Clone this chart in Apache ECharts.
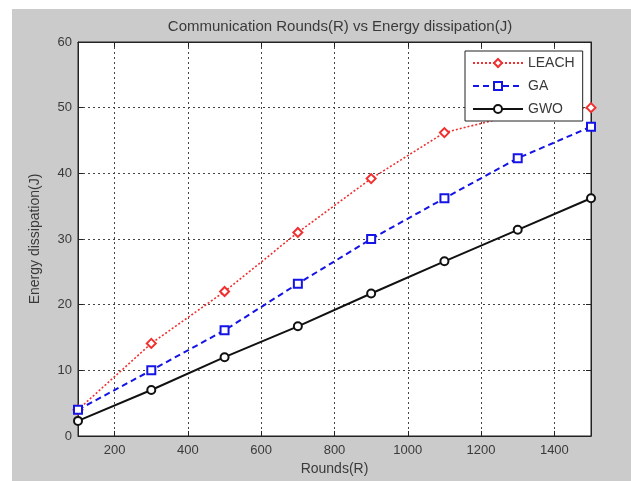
<!DOCTYPE html>
<html>
<head>
<meta charset="utf-8">
<script src="https://cdn.jsdelivr.net/npm/echarts@6/dist/echarts.min.js"></script>
<style>
  html, body { margin: 0; padding: 0; background: #fff; }
  #chart { width: 631px; height: 481px; }
</style>
</head>
<body>
<div id="chart"></div>
<script>
// rounds on the x axis
const rounds = [100, 300, 500, 700, 900, 1100, 1300, 1500]
// energy dissipation (J) per protocol
const leach = [4.0, 14.1, 22.0, 31.0, 39.2, 46.2, 49.0, 50.0]
const ga = [4.0, 10.0, 16.1, 23.2, 30.0, 36.2, 42.3, 47.1]
const gwo = [2.3, 7.0, 12.0, 16.7, 21.7, 26.6, 31.4, 36.2]
// tick labels
const xTicks = [200, 400, 600, 800, 1000, 1200, 1400]
const yTicks = [0, 10, 20, 30, 40, 50, 60]

const toPairs = arr => rounds.map((r, i) => [r, arr[i]])

const font = 'Liberation Sans, Arial, sans-serif'
const txt = '#3a3a3a'

const chart = echarts.init(document.getElementById('chart'))

const gridLine = { show: true, lineStyle: { color: '#444', type: [2, 3], width: 1 } }

chart.setOption({
  animation: false,
  backgroundColor: '#fff',
  graphic: [{
    type: 'rect',
    z: -10,
    shape: { x: 12, y: 9, width: 619, height: 472 },
    style: { fill: '#cbcbcb' }
  }],
  title: {
    text: 'Communication Rounds(R) vs Energy dissipation(J)',
    left: 335,
    textAlign: 'center',
    top: 14,
    textStyle: { fontFamily: font, fontSize: 15, fontWeight: 'normal', color: txt }
  },
  legend: {
    left: 465,
    top: 51,
    width: 122,
    orient: 'vertical',
    backgroundColor: '#fff',
    borderColor: '#222',
    borderWidth: 1,
    padding: [5, 8, 5, 7],
    itemWidth: 50,
    itemHeight: 10,
    itemGap: 9,
    textStyle: { fontFamily: font, fontSize: 14, color: txt },
    data: ['LEACH', 'GA', 'GWO']
  },
  grid: {
    left: 78, top: 42, right: 40, bottom: 43,
    show: true, backgroundColor: '#fff', borderColor: '#222', borderWidth: 1
  },
  xAxis: [{
    type: 'value',
    min: 100,
    max: 1500,
    name: 'Rounds(R)',
    nameLocation: 'middle',
    nameGap: 26,
    nameTextStyle: { fontFamily: font, fontSize: 14, color: txt },
    axisLine: { show: true, onZero: false, lineStyle: { color: '#222' } },
    axisTick: { show: true, inside: true, length: 5, customValues: xTicks, lineStyle: { color: '#222' } },
    axisLabel: { customValues: xTicks, fontFamily: font, fontSize: 13, color: txt, margin: 8,
      formatter: v => String(v) },
    splitLine: gridLine
  }, {
    type: 'value',
    position: 'top',
    min: 100,
    max: 1500,
    axisLine: { show: true, onZero: false, lineStyle: { color: '#222' } },
    axisTick: { show: true, inside: true, length: 5, customValues: xTicks, lineStyle: { color: '#222' } },
    axisLabel: { show: false },
    splitLine: { show: false }
  }],
  yAxis: [{
    type: 'value',
    min: 0,
    max: 60,
    interval: 10,
    name: 'Energy dissipation(J)',
    nameLocation: 'middle',
    nameGap: 36,
    nameTextStyle: { fontFamily: font, fontSize: 14, color: txt },
    axisLine: { show: true, lineStyle: { color: '#222' } },
    axisTick: { show: true, inside: true, length: 5, lineStyle: { color: '#222' } },
    axisLabel: { fontFamily: font, fontSize: 13, color: txt, margin: 6,
      formatter: v => yTicks.includes(v) ? String(v) : '' },
    splitLine: gridLine
  }, {
    type: 'value',
    position: 'right',
    min: 0,
    max: 60,
    interval: 10,
    axisLine: { show: true, lineStyle: { color: '#222' } },
    axisTick: { show: true, inside: true, length: 5, lineStyle: { color: '#222' } },
    axisLabel: { show: false },
    splitLine: { show: false }
  }],
  series: [
    {
      name: 'LEACH',
      type: 'line',
      data: toPairs(leach),
      symbol: 'emptyDiamond',
      symbolSize: 9,
      color: '#f03030',
      lineStyle: { color: '#f03030', width: 1.6, type: [2, 2] },
      itemStyle: { color: '#f03030', borderWidth: 2 },
      z: 3
    },
    {
      name: 'GA',
      type: 'line',
      data: toPairs(ga),
      symbol: 'emptyRect',
      symbolSize: 8,
      color: '#1414e6',
      lineStyle: { color: '#1414e6', width: 2, type: [6, 4] },
      itemStyle: { color: '#1414e6', borderWidth: 2 },
      z: 3
    },
    {
      name: 'GWO',
      type: 'line',
      data: toPairs(gwo),
      symbol: 'emptyCircle',
      symbolSize: 8,
      color: '#111',
      lineStyle: { color: '#111', width: 2 },
      itemStyle: { color: '#111', borderWidth: 1.5 },
      z: 3
    }
  ]
})
</script>
</body>
</html>
